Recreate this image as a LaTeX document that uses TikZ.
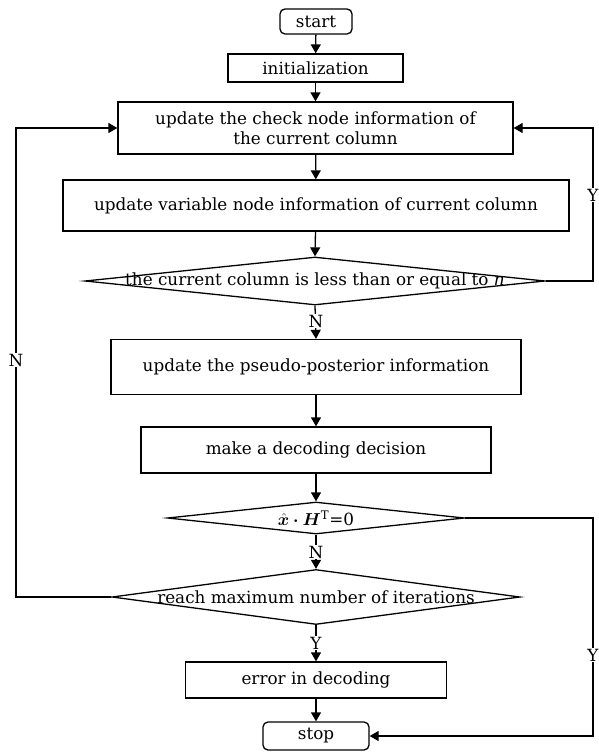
\documentclass[tikz,border=0pt]{standalone}
\usepackage{fontspec}
\setmainfont{DejaVu Serif}
\usepackage{bm}
\usetikzlibrary{shapes.geometric,arrows.meta}
\tikzset{
  base/.style={draw, line width=1.3pt, inner sep=0pt, font=\fontsize{16.8}{20.5}\selectfont},
  procbox/.style={base, rectangle, align=center},
  termbox/.style={base, rectangle, rounded corners=5pt},
  dia/.style={draw, line width=1.3pt, diamond, inner sep=0pt, aspect=1},
  txt/.style={inner sep=0pt, font=\fontsize{16.8}{20.5}\selectfont},
  lab/.style={fill=white, inner sep=1pt, font=\fontsize{16.8}{20.5}\selectfont},
  arr/.style={line width=1.3pt, -{Triangle[length=9pt,width=10pt]}}
}
\begin{document}
\begin{tikzpicture}[x=1pt,y=-1pt]
\useasboundingbox (0,0) rectangle (598,752);
\node[termbox, minimum width=72pt, minimum height=25pt] (start) at (316,21.5) {start};
\node[procbox, minimum width=175pt, minimum height=28pt] (init) at (315.5,68) {initialization};
\node[procbox, minimum width=395pt, minimum height=52pt] (check) at (315.5,128) {update the check node information of\\the current column};
\node[procbox, minimum width=506pt, minimum height=51pt] (var) at (316,205.5) {update variable node information of current column};
\node[dia, minimum width=460pt, minimum height=48pt] (d1) at (315,281) {};
\node[txt] (d1t) at (d1.center) {the current column is less than or equal to \textit{n}};
\node[procbox, minimum width=410pt, minimum height=55pt] (pseudo) at (316,367) {update the pseudo-posterior information};
\node[procbox, minimum width=350pt, minimum height=46pt] (dec) at (316,450) {make a decoding decision};
\node[dia, minimum width=297pt, minimum height=32pt] (d2) at (316,518) {};
\node[txt] (d2t) at (d2.center) {$\hat{\bm{x}}\bm{\cdot}\bm{H}^{\mathrm{T}}$=0};
\node[dia, minimum width=408pt, minimum height=55pt] (d3) at (316,597) {};
\node[txt] (d3t) at (d3.center) {reach maximum number of iterations};
\node[procbox, minimum width=261pt, minimum height=36pt] (err) at (316,680) {error in decoding};
\node[termbox, minimum width=106pt, minimum height=28pt] (stop) at (316,736) {stop};

\coordinate (r1) at (593,281);
\coordinate (r2) at (593,518);
\coordinate (l1) at (16,597);

\draw[arr] (start) -- (init);
\draw[arr] (init) -- (check);
\draw[arr] (check) -- (var);
\draw[arr] (var) -- (d1.north);
\draw[arr] (d1.south) -- (pseudo.north);
\draw[arr] (pseudo) -- (dec);
\draw[arr] (dec) -- (d2.north);
\draw[arr] (d2.south) -- (d3.north);
\draw[arr] (d3.south) -- (err.north);
\draw[arr] (err) -- (stop);
\draw[arr] (d1.east) -- (r1) |- (check.east);
\draw[arr] (d2.east) -- (r2) |- (stop.east);
\draw[arr] (d3.west) -- (l1) |- (check.west);

\node[lab] (n1) at (316,321) {N};
\node[lab] (n2) at (316,552) {N};
\node[lab] (y3) at (316,643) {Y};
\node[lab] (y1) at (593,195) {Y};
\node[lab] (y2) at (593,655) {Y};
\node[lab] (n3) at (16,360) {N};
\end{tikzpicture}
\end{document}
